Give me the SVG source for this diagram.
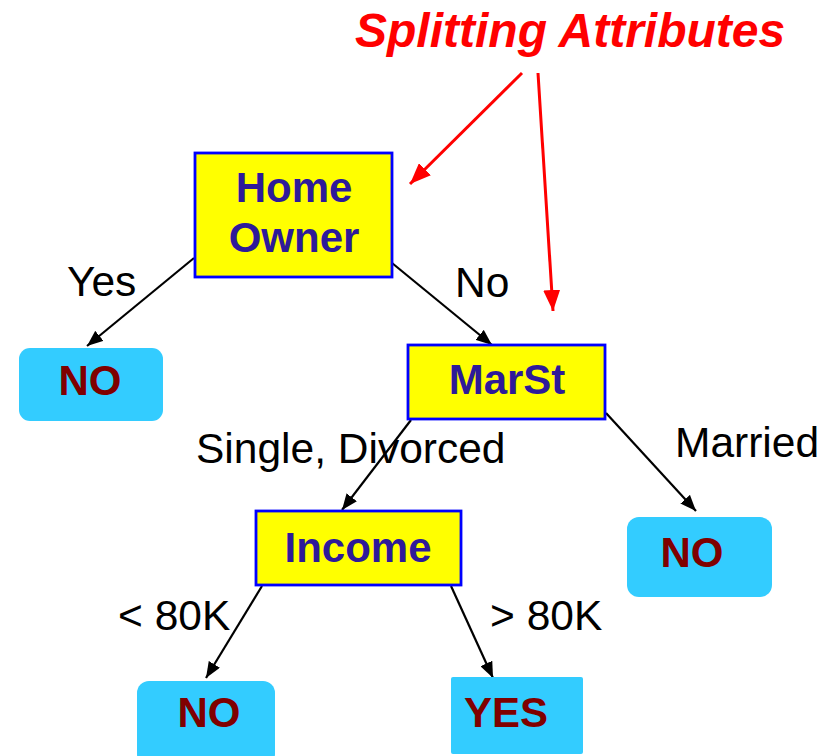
<svg xmlns="http://www.w3.org/2000/svg" width="829" height="756" viewBox="0 0 829 756">
<defs>
<style>
.attr rect{fill:#FFFF00;stroke:#0000FF;stroke-width:2.8}
.attr text{font-family:"Liberation Sans",Arial,sans-serif;font-weight:bold;font-size:42px;fill:#2E1A99;text-anchor:middle}
.leaf rect{fill:#33CCFF}
.leaf text{font-family:"Liberation Sans",Arial,sans-serif;font-weight:bold;font-size:42px;fill:#800000;text-anchor:middle}
.lbl{font-family:"Liberation Sans",Arial,sans-serif;font-size:42.5px;fill:#000}
.edge{stroke:#000;stroke-width:2.2;fill:none;marker-end:url(#ah)}
.red{stroke:#FF0000;stroke-width:3;fill:none;marker-end:url(#rh)}
</style>
<marker id="ah" markerUnits="userSpaceOnUse" markerWidth="17" markerHeight="13" refX="16" refY="6.5" orient="auto">
<path d="M0,0 L16,6.5 L0,13 z" fill="#000"/>
</marker>
<marker id="rh" markerUnits="userSpaceOnUse" markerWidth="22" markerHeight="17" refX="21" refY="8.5" orient="auto">
<path d="M0,0 L21,8.5 L0,17 z" fill="#FF0000"/>
</marker>
</defs>
<rect width="829" height="756" fill="#fff"/>

<g id="title">
<text x="355" y="47" font-family="'Liberation Sans',Arial,sans-serif" font-weight="bold" font-style="italic" font-size="48" fill="#FF0000">Splitting Attributes</text>
</g>

<g id="connectors">
<line class="red" x1="522" y1="73" x2="410" y2="184"/>
<line class="red" x1="538" y1="73" x2="553" y2="311"/>
<line class="edge" x1="194" y1="258" x2="87" y2="346"/>
<line class="edge" x1="392" y1="263" x2="492" y2="345"/>
<line class="edge" x1="411" y1="420" x2="342" y2="510"/>
<line class="edge" x1="606" y1="413" x2="696" y2="511"/>
<line class="edge" x1="262" y1="586" x2="206" y2="678"/>
<line class="edge" x1="451" y1="586" x2="493" y2="678"/>
</g>

<g id="labels">
<text class="lbl" x="67" y="296">Yes</text>
<text class="lbl" x="455" y="297">No</text>
<text class="lbl" x="196" y="463">Single, Divorced</text>
<text class="lbl" x="675" y="457">Married</text>
<text class="lbl" x="118" y="630">&lt; 80K</text>
<text class="lbl" x="490" y="630">&gt; 80K</text>
</g>

<g id="homeowner" class="attr">
<rect x="195" y="153" width="197" height="124"/>
<text x="294" y="202">Home</text>
<text x="294" y="252">Owner</text>
</g>

<g id="no1" class="leaf">
<rect x="19" y="348" width="144" height="73" rx="11"/>
<text x="90" y="395">NO</text>
</g>

<g id="marst" class="attr">
<rect x="408" y="345" width="197" height="74"/>
<text x="507" y="394">MarSt</text>
</g>

<g id="income" class="attr">
<rect x="256" y="511" width="205" height="74"/>
<text x="358" y="562">Income</text>
</g>

<g id="no2" class="leaf">
<rect x="627" y="517" width="145" height="80" rx="12"/>
<text x="692" y="567">NO</text>
</g>

<g id="no3" class="leaf">
<rect x="137" y="681" width="138" height="85" rx="12"/>
<text x="209" y="727">NO</text>
</g>

<g id="yes" class="leaf">
<rect x="451" y="677" width="132" height="77" rx="2"/>
<text x="506" y="727">YES</text>
</g>
</svg>
